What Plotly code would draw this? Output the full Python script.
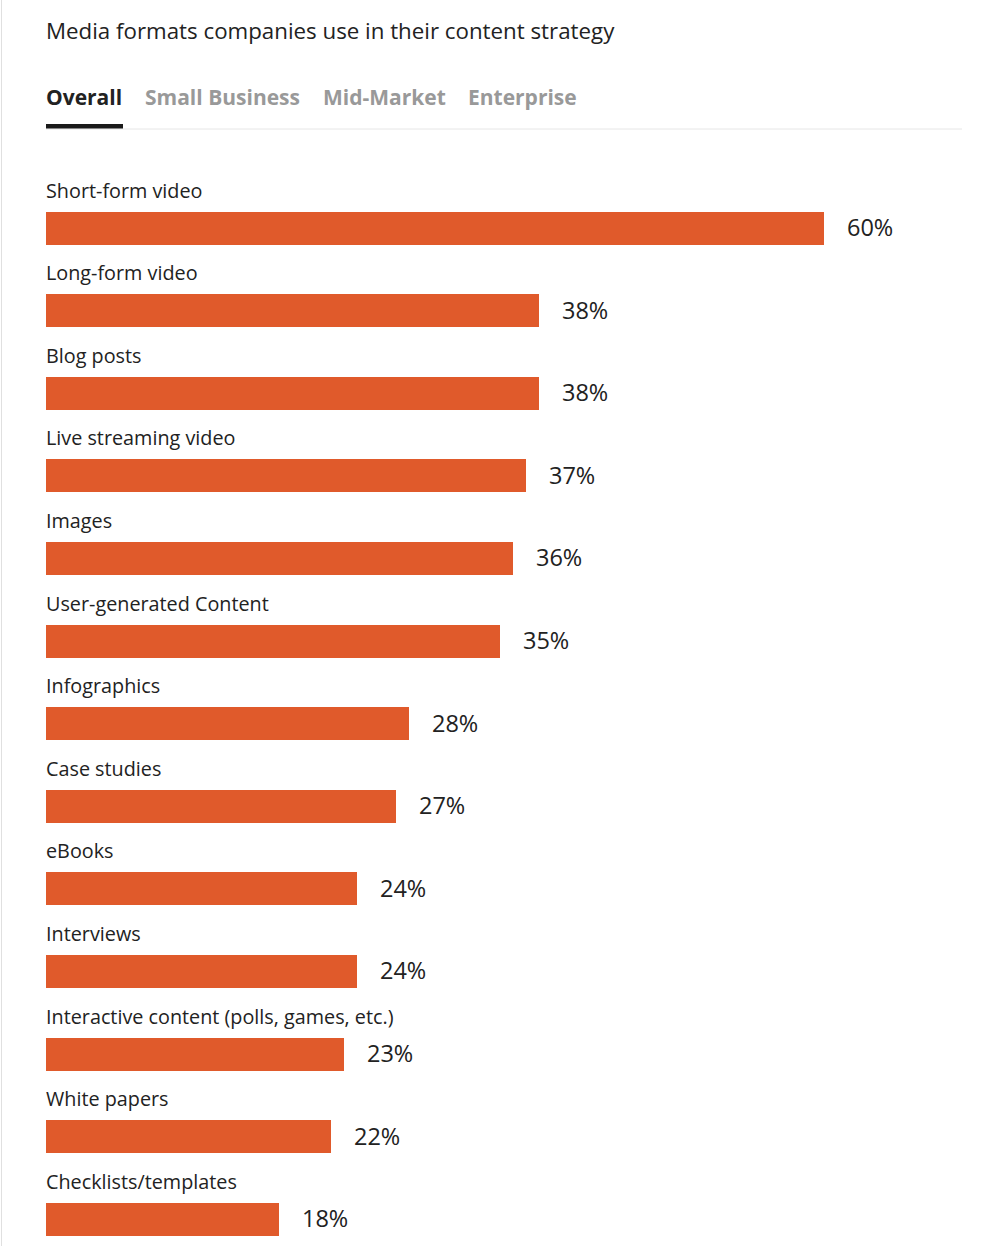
import plotly.graph_objects as go

categories = ["Short-form video", "Long-form video", "Blog posts", "Live streaming video",
              "Images", "User-generated Content", "Infographics", "Case studies", "eBooks",
              "Interviews", "Interactive content (polls, games, etc.)", "White papers",
              "Checklists/templates"]
values = [60, 38, 38, 37, 36, 35, 28, 27, 24, 24, 23, 22, 18]
title_text = "Media formats companies use in their content strategy"
tabs = ["Overall", "Small Business", "Mid-Market", "Enterprise"]
tab_x = [46, 145, 323, 468]

W, H = 1000, 1246
FONT = "Open Sans"
BAR = "#E05A2B"
TXT = "#222222"

px_per_unit = 778 / 60.0
x_left = 46
xmax = (W - x_left) / px_per_unit
step = 82.6
y_top = -228 / step
y_bot = y_top + H / step

idx = list(range(len(categories)))

fig = go.Figure()
fig.add_trace(go.Bar(
    x=values, y=idx, orientation="h", marker=dict(color=BAR, line=dict(width=0)),
    width=33 / step, hoverinfo="skip", showlegend=False,
))

ann = []
for i, (c, v) in enumerate(zip(categories, values)):
    ann.append(dict(x=0, y=i - 38 / step, xref="x", yref="y", text=c, showarrow=False,
                    xanchor="left", yanchor="middle", xshift=-2,
                    font=dict(family=FONT, size=19.8, color=TXT)))
    ann.append(dict(x=v, y=i, xref="x", yref="y", text=f"{v}%", showarrow=False,
                    xanchor="left", yanchor="middle", xshift=21, yshift=1,
                    font=dict(family=FONT, size=23.5, color=TXT)))

ann.append(dict(x=46 / W, y=1 - 30 / H, xref="paper", yref="paper", text=title_text,
                showarrow=False, xanchor="left", yanchor="middle", xshift=-2,
                font=dict(family=FONT, size=22.3, color=TXT)))
for i, (t, tx) in enumerate(zip(tabs, tab_x)):
    ann.append(dict(x=tx / W, y=1 - 97 / H, xref="paper", yref="paper",
                    text=f"<b>{t}</b>", showarrow=False, xanchor="left", yanchor="middle",
                    xshift=-2,
                    font=dict(family=FONT, size=21, color=TXT if i == 0 else "#999999")))

shapes = [
    dict(type="line", xref="paper", yref="paper", x0=46 / W, x1=962 / W,
         y0=1 - 129 / H, y1=1 - 129 / H, line=dict(color="#E6E6E6", width=1)),
    dict(type="rect", xref="paper", yref="paper", x0=46 / W, x1=123 / W,
         y0=1 - 128.5 / H, y1=1 - 124 / H, fillcolor="#1A1A1A", line=dict(width=0)),
    dict(type="line", xref="paper", yref="paper", x0=1.5 / W, x1=1.5 / W,
         y0=0, y1=1, line=dict(color="#E0E0E0", width=1)),
]

fig.update_layout(
    width=W, height=H, margin=dict(l=0, r=0, t=0, b=0),
    paper_bgcolor="white", plot_bgcolor="white",
    xaxis=dict(domain=[x_left / W, 1], range=[0, xmax], visible=False, fixedrange=True),
    yaxis=dict(range=[y_bot, y_top], visible=False, fixedrange=True),
    annotations=ann, shapes=shapes, bargap=0,
)
fig.write_html("out.html")
